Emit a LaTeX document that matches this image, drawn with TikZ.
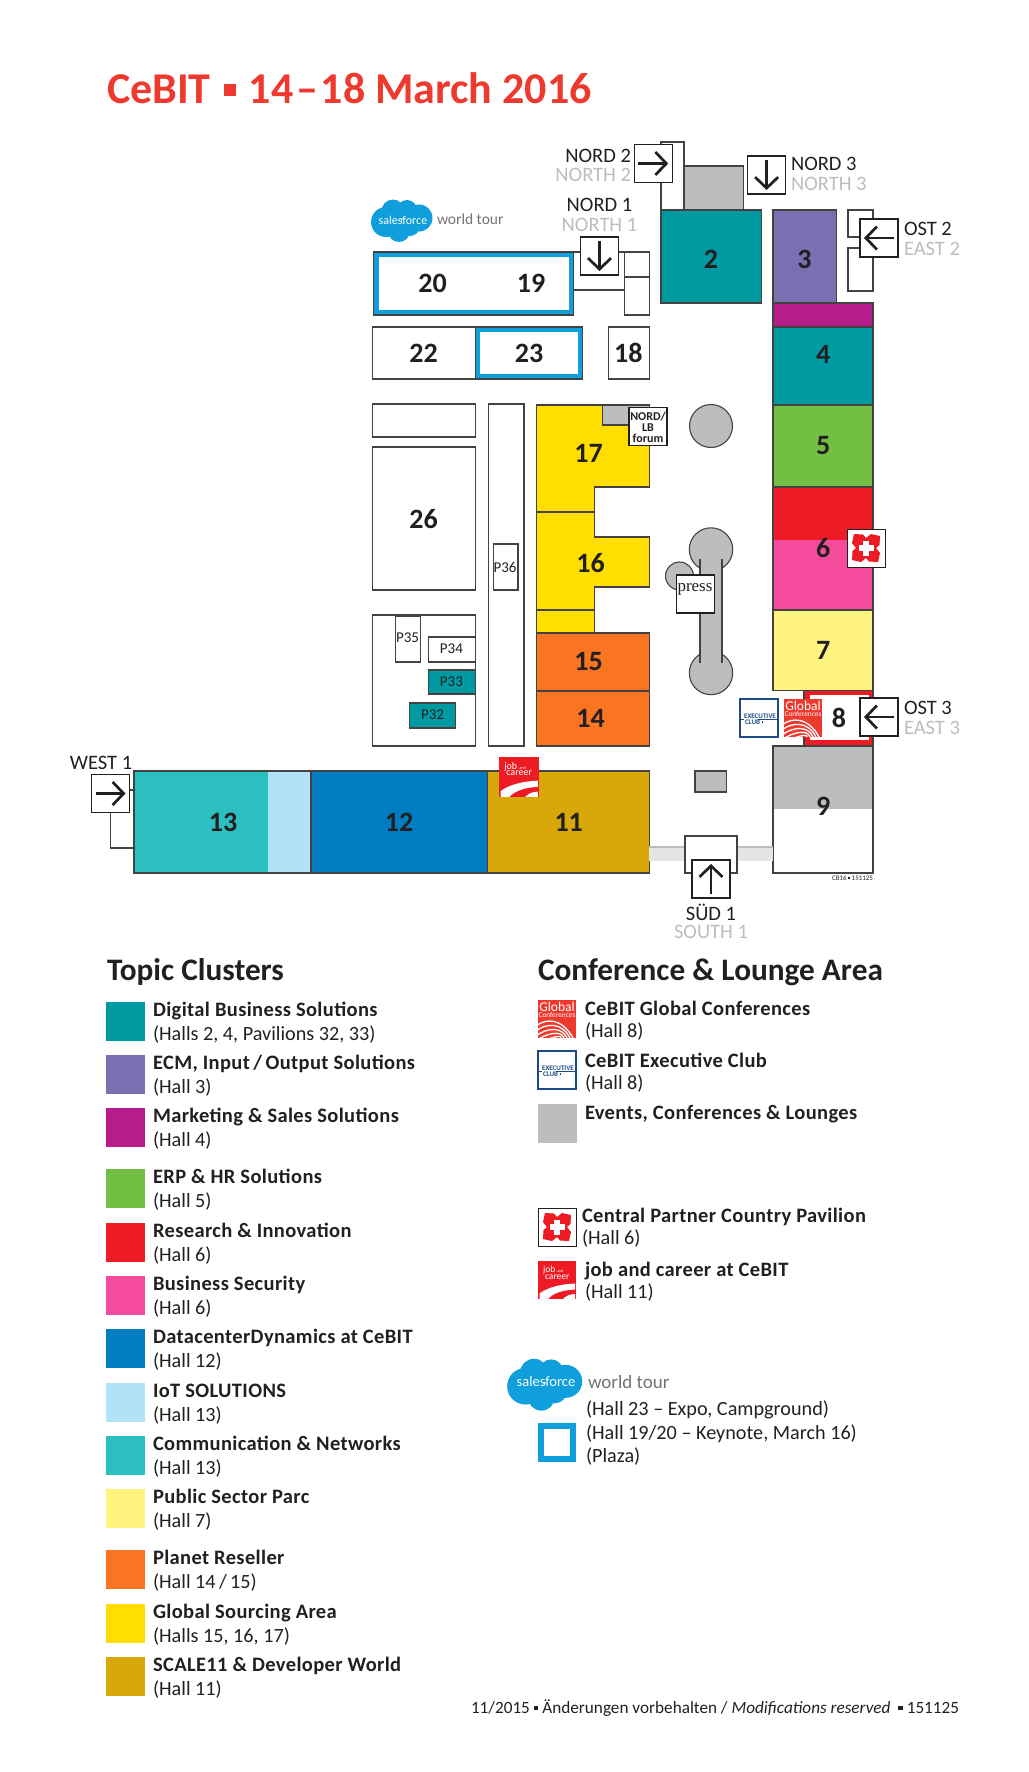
\documentclass[tikz,border=0pt]{standalone}
\usepackage{fontspec}
\usepackage{tikz}
\usetikzlibrary{arrows.meta}
\setmainfont{Carlito}
\newfontfamily\legfont[LetterSpace=1.8]{Carlito}
\newfontfamily\pressfont{Liberation Serif}

\definecolor{cbteal}{HTML}{009AA3}
\definecolor{cbpurple}{HTML}{7B6FB2}
\definecolor{cbmagenta}{HTML}{B51C8C}
\definecolor{cbgreen}{HTML}{72BF44}
\definecolor{cbred}{HTML}{ED1C24}
\definecolor{cbpink}{HTML}{F44B9C}
\definecolor{cbblue}{HTML}{007CC3}
\definecolor{cbsky}{HTML}{B3E1F8}
\definecolor{cbaqua}{HTML}{2CBFC0}
\definecolor{cblemon}{HTML}{FFF47F}
\definecolor{cborange}{HTML}{F97521}
\definecolor{cbyellow}{HTML}{FFDE00}
\definecolor{cbgold}{HTML}{D8A80A}
\definecolor{cbgrey}{HTML}{BCBDBF}
\definecolor{cbtitle}{HTML}{EE3A2E}
\definecolor{cbsales}{HTML}{0F9FDC}
\definecolor{cbnavy}{HTML}{1B4A86}
\definecolor{cbink}{HTML}{231F20}

\newcommand{\sqmark}{\rule[.16em]{.27em}{.27em}}

\tikzset{
	hall/.style={draw=cbink!85, line width=1.1pt},
	number/.style={font=\bfseries\fontsize{28}{28}\selectfont, text=cbink},
	gatede/.style={font=\fontsize{20.5}{20.5}\selectfont, text=cbink},
	gateen/.style={font=\fontsize{20.5}{20.5}\selectfont, text=cbgrey},
	gatebox/.style={draw=cbink, fill=white, line width=1.2pt, minimum width=38pt, minimum height=38pt},
	gatearrow/.style={draw=cbink, line width=2.7pt, shorten <=4pt, shorten >=4pt, -{Straight Barb[length=11pt,width=23pt]}},
	small/.style={font=\fontsize{15}{15}\selectfont, text=cbink},
	head/.style={font=\bfseries\fontsize{31.3}{31.3}\selectfont, text=cbink, anchor=base west},
	legone/.style={font=\legfont\bfseries\fontsize{20.5}{20.5}\selectfont, text=cbink, anchor=base west},
	legtwo/.style={font=\fontsize{20.2}{20.2}\selectfont, text=cbink, anchor=base west},
	cloud/.pic={
		\fill[cbsales] (-16,1) circle (15);
		\fill[cbsales] (-9,-10) circle (11.5);
		\fill[cbsales] (5,-11) circle (10);
		\fill[cbsales] (17,-3) circle (13.5);
		\fill[cbsales] (-3,10) circle (11);
		\fill[cbsales] (8,5) circle (10);
	},
	globallogo/.pic={
		\fill[cbtitle] (0,0) rectangle (38,38);
		\begin{scope}
			\clip (0,0) rectangle (38,38);
			\foreach \k in {0,1,2,3,4}
			\draw[white, line width=1.3pt] (-2,26+\k*5) .. controls (8,18+\k*5) and (24,18+\k*4) .. (35-\k*3,38);
		\end{scope}
		\node[transform shape, text=white, font=\fontsize{13.5}{13.5}\selectfont, anchor=base] (glob) at (19,11.5) {Global};
		\node[transform shape, text=white, font=\fontsize{7.3}{7.3}\selectfont, anchor=base] (conf) at (19,17) {Conferences};
	},
	execlogo/.pic={
		\draw[cbnavy, fill=white, line width=1.2pt] (0,0) rectangle (38,38);
		\draw[cbnavy, line width=.4pt] (1,20) -- (4,20) (18,20) -- (37,20);
		\node[transform shape, text=cbnavy, font=\bfseries\fontsize{7}{7}\selectfont] (exec) at (20,17) {EXECUTIVE};
		\node[transform shape, text=cbnavy, font=\bfseries\fontsize{7}{7}\selectfont, anchor=west] (club) at (5,23) {CLUB \sqmark};
	},
	joblogo/.pic={
		\fill[cbred] (0,0) rectangle (38,38);
		\fill[white] (1.5,38) -- (1.5,32.5) .. controls (10,26) and (24,23) .. (37,22.5) -- (37,28.5) .. controls (25,29) and (15,32) .. (10,38) -- cycle;
		\fill[white] (25,38) .. controls (28,34.5) and (33,33) .. (37,33) -- (37,38) -- cycle;
		\node[transform shape, text=white, font=\fontsize{9.5}{9.5}\selectfont, anchor=base west] (jobt) at (5,11.5) {\smash{job} \fontsize{4}{4}\selectfont and};
		\node[transform shape, text=white, font=\fontsize{9.5}{9.5}\selectfont, anchor=base west] (care) at (7,18) {career};
	},
	flowerlogo/.pic={
		\draw[cbink, fill=white, line width=1pt] (0,0) rectangle (38,38);
		\begin{scope}[shift={(19,19)}]
			\foreach \a in {0,90,180,270}
			\fill[cbred, rotate=\a] (0,0) -- (0,-10) -- (-3,-13.5) -- (-12,-14) -- (-14,-5) -- (-10,0) -- cycle;
			\fill[white] (-3,-7.5) rectangle (3,7.5);
			\fill[white] (-7.5,-3) rectangle (7.5,3);
		\end{scope}
	},
}

\begin{document}
\begin{tikzpicture}[x=1pt, y=-1pt, every node/.style={inner sep=0pt, outer sep=0pt}]
	\useasboundingbox (0,0) rectangle (1028,1772);
	
	% Title
	\node[anchor=base west, text=cbtitle, font=\bfseries\fontsize{44}{44}\selectfont] (title) at (107,103) {CeBIT\hspace{.3em}\sqmark\hspace{.3em}14\hspace{.06em}–\hspace{.06em}18 March 2016};
	
	\begin{scope}[xshift=1pt]
	% Halls at the top
	\draw[hall] (660,142) rectangle (683,210);
	\draw[hall, fill=cbgrey] (683,166) rectangle (742.7,210);
	\draw[hall, fill=cbteal] (660,210) rectangle (760.6,303);
	\draw[hall, fill=cbpurple] (772,210) rectangle (835.2,303);
	\draw[hall] (847,210) rectangle (872,237);
	\draw[hall] (847,248) rectangle (872,291);
	\draw[hall] (572.7,252) rectangle (623.4,290);
	\draw[hall] (623.4,252) rectangle (648.3,277);
	\draw[hall] (623.4,277) rectangle (648.3,315);
	\draw[hall, fill=cbsales] (372.8,252) rectangle (572.7,315);
	\fill[white] (377.8,257) rectangle (567.7,310);
	\draw[hall] (371.8,327) rectangle (474.2,379);
	\draw[hall, fill=cbsales] (474.2,327) rectangle (581.6,379);
	\fill[white] (479.2,332) rectangle (576.7,374);
	\draw[hall] (607.5,327) rectangle (648.3,379);
	
	% Column on the right
	\foreach \col/\ya/\yb in {cbmagenta/303/327, cbteal/327/405, cbgreen/405/487, cbred/487/540, cbpink/540/610, cblemon/610/690.5}
	\fill[\col] (772,\ya) rectangle (872,\yb);
	\draw[hall] (772,303) rectangle (872,327);
	\draw[hall] (772,327) rectangle (872,405);
	\draw[hall] (772,405) rectangle (872,487);
	\draw[hall] (772,487) rectangle (872,610);
	\draw[hall] (772,610) rectangle (872,690.5);
	\draw[hall, fill=cbred] (803,690.5) rectangle (872,746);
	\fill[white] (809,695) rectangle (868,740);
	\fill[cbgrey] (772,746) rectangle (872,809);
	\draw[hall] (772,746) rectangle (872,873);
	
	% Middle block
	\draw[hall] (371.8,404) rectangle (474.2,437);
	\draw[hall] (371.8,447) rectangle (474.2,590);
	\draw[hall] (487.2,404) rectangle (523,746);
	\draw[hall] (492.1,544) rectangle (517,590);
	\draw[hall] (371.8,615) rectangle (474.2,746);
	\draw[hall] (394.7,616) rectangle (419.6,662);
	\draw[hall] (427.5,637) rectangle (474.2,662);
	\draw[hall, fill=cbteal] (427.5,670) rectangle (474.2,694);
	\draw[hall, fill=cbteal] (408.6,703) rectangle (454.4,728);
	
	% Halls 14 to 17
	\draw[hall, fill=cbyellow] (535.9,405) -- (648.3,405) -- (648.3,487) -- (593.6,487) -- (593.6,512) -- (535.9,512) -- cycle;
	\draw[hall, fill=cbyellow] (535.9,512) -- (593.6,512) -- (593.6,537) -- (648.3,537) -- (648.3,587) -- (593.6,587) -- (593.6,610) -- (535.9,610) -- cycle;
	\draw[hall, fill=cbyellow] (535.9,610) rectangle (593.6,633);
	\draw[hall, fill=cborange] (535.9,633) rectangle (648.3,691);
	\draw[hall, fill=cborange] (535.9,691) rectangle (648.3,746);
	\draw[hall, fill=cbgrey] (601.5,405) rectangle (648.3,425);
	
	% Halls at the bottom
	\fill[cbaqua] (133,771) rectangle (267,873);
	\fill[cbsky] (267,771) rectangle (310,873);
	\draw[hall] (133,771) rectangle (310,873);
	\draw[hall, fill=cbblue] (310,771) rectangle (486.5,873);
	\draw[hall, fill=cbgold] (486.5,771) rectangle (648.3,873);
	\draw[hall, fill=cbgrey] (694,771) rectangle (725.8,792);
	\fill[black!10] (648.3,847) rectangle (684,861);
	\fill[black!10] (736,847) rectangle (772,861);
	\draw[cbgrey, line width=1.5pt] (648.3,847) -- (684,847) (736,847) -- (772,847);
	\draw[hall, fill=white] (684,836) rectangle (736,873);
	
	% Round pavilions
	\draw[hall, fill=cbgrey] (710,426) circle (21.5);
	\draw[hall, fill=cbgrey] (678.5,576) circle (14);
	\draw[hall, fill=cbgrey] (710,549.5) circle (21.7);
	\draw[hall, fill=cbgrey] (710,673) circle (21.7);
	\draw[hall, fill=cbgrey] (699,560) rectangle (721,662);
	\fill[cbgrey] (699.6,555) rectangle (720.4,667);
	
	% Numbers
	\foreach \name/\cx/\cy/\txt in {two/710/259/2, three/803.4/259/3, four/822.3/354/4, five/822.3/446/5, six/822.3/548/6, seven/822.3/650/7, eight/838/718/8, nine/822.3/806/9, eleven/567.7/822/11, twelve/398/822/12, thirteen/222/822/13, fourteen/589.6/718/14, fifteen/587.6/661/15, sixteen/589.6/563/16, seventeen/587.6/453/17, eighteen/627.4/353/18, nineteen/530/283/19, twenty/431.5/283/20, twentytwo/422.5/353/22, twentythree/528/353/23, twentysix/422.5/519/26}
	\node[number] (num\name) at (\cx,\cy) {\txt};
	\foreach \name/\cx/\cy in {32/431.5/715, 33/450.4/682, 34/450.4/649, 35/406.6/638, 36/504/567}
	\node[small] (pav\name) at (\cx,\cy) {P\name};
	\node[text=cbink, font=\fontsize{7}{7}\selectfont, anchor=east] (code) at (872,878) {CB16 \sqmark{} 151125};
	
	% Boxes on the halls
	\node[draw=cbink, fill=white, line width=1.2pt, minimum width=38pt, minimum height=38pt, anchor=north west] (pressbox) at (675.5,575) {};
	\node[font=\pressfont\fontsize{17}{17}\selectfont, text=cbink, anchor=base] (presstxt) at (694,591) {press};
	\node[draw=cbink, fill=white, line width=1.2pt, minimum width=38pt, minimum height=38pt] (lbbox) at (647,426.5) {};
	\node[font=\bfseries\fontsize{12}{11}\selectfont, text=cbink, align=center] (lbtxt) at (647,427) {NORD/\\LB\\forum};
	\pic at (846,529) {flowerlogo};
	\pic at (739,699) {execlogo};
	\pic at (783,699) {globallogo};
	\pic[scale=1.05] at (498,757) {joblogo};
	
	% Gates
	\coordinate (westend) at (133,790);
	\coordinate (westlow) at (133,848);
	\foreach \name/\cx/\cy/\from/\to in {nordone/598.5/256/north/south, nordtwo/652.2/163.5/west/east, nordthree/765.6/175/north/south, osttwo/878/238/east/west, ostthree/878/717/east/west, westone/109.5/793.5/west/east, suedone/710/879/south/north}
	{
		\node[gatebox] (\name) at (\cx,\cy) {};
		\draw[gatearrow] (\name.\from) -- (\name.\to);
	}
	\draw[hall] (westone.east |- westend) -- (westend);
	\draw[hall] (westone.south) |- (westlow);
	
	% Gate labels
	\node[gatede] (nordonede) at (598.5,205) {NORD 1};
	\node[gateen] (nordoneen) at (598.5,225) {NORTH 1};
	\node[gatede, anchor=east] (nordtwode) at (630,156) {NORD 2};
	\node[gateen, anchor=east] (nordtwoen) at (630,175) {NORTH 2};
	\node[gatede, anchor=west] (nordthreede) at (790,164) {NORD 3};
	\node[gateen, anchor=west] (nordthreeen) at (790,184) {NORTH 3};
	\node[gatede, anchor=west] (osttwode) at (903,229) {OST 2};
	\node[gateen, anchor=west] (osttwoen) at (903,249) {EAST 2};
	\node[gatede, anchor=west] (ostthreede) at (903,708) {OST 3};
	\node[gateen, anchor=west] (ostthreeen) at (903,728) {EAST 3};
	\node[gatede] (westonede) at (100,763) {WEST 1};
	\node[gatede] (suedonede) at (710,912) {SÜD 1};
	\node[gateen] (suedoneen) at (710,932) {SOUTH 1};
	
	% Salesforce on the plan
	\pic at (401,221) {cloud};
	\node[text=white, font=\fontsize{12}{12}\selectfont] (salesmap) at (402,220) {salesforce};
	\node[text=black!55, font=\fontsize{15.5}{15.5}\selectfont, anchor=west] (tourmap) at (436,219) {world tour};
	\end{scope}
	
	% Legend left
	\node[head] (headleft) at (107,980) {Topic Clusters};
	\foreach \col/\yy/\one/\two in {
		cbteal/1002/{Digital Business Solutions}/{(Halls 2, 4, Pavilions 32, 33)},
		cbpurple/1055/{ECM, Input\,/\,Output Solutions}/{(Hall 3)},
		cbmagenta/1108/{Marketing \& Sales Solutions}/{(Hall 4)},
		cbgreen/1169/{ERP \& HR Solutions}/{(Hall 5)},
		cbred/1223/{Research \& Innovation}/{(Hall 6)},
		cbpink/1276/{Business Security}/{(Hall 6)},
		cbblue/1329/{DatacenterDynamics at CeBIT}/{(Hall 12)},
		cbsky/1383/{IoT SOLUTIONS}/{(Hall 13)},
		cbaqua/1436/{Communication \& Networks}/{(Hall 13)},
		cblemon/1489/{Public Sector Parc}/{(Hall 7)},
		cborange/1550/{Planet Reseller}/{(Hall 14\,/\,15)},
		cbyellow/1604/{Global Sourcing Area}/{(Halls 15, 16, 17)},
		cbgold/1657/{SCALE11 \& Developer World}/{(Hall 11)}}
	{
		\fill[\col] (106,\yy) rectangle ++(39,39);
		\node[legone] (one\yy) at (153,\yy+14) {\one};
		\node[legtwo] (two\yy) at (153,\yy+38) {\two};
	}
	
	% Legend right
	\node[head] (headright) at (538,980) {Conference \& Lounge Area};
	\pic at (538,1000) {globallogo};
	\node[legone] (confone) at (585,1015) {CeBIT Global Conferences};
	\node[legtwo] (conftwo) at (585,1037) {(Hall 8)};
	\pic at (538,1051) {execlogo};
	\node[legone] (execone) at (585,1067) {CeBIT Executive Club};
	\node[legtwo] (exectwo) at (585,1089) {(Hall 8)};
	\fill[cbgrey] (538,1104) rectangle ++(39,39);
	\node[legone] (eventone) at (585,1119) {Events, Conferences \& Lounges};
	\pic at (538,1208) {flowerlogo};
	\node[legone] (partone) at (582,1222) {Central Partner Country Pavilion};
	\node[legtwo] (parttwo) at (582,1244) {(Hall 6)};
	\pic at (538,1261) {joblogo};
	\node[legone] (careerone) at (585,1276) {job and career at CeBIT};
	\node[legtwo] (careertwo) at (585,1298) {(Hall 11)};
	
	% Salesforce in the legend
	\pic[scale=1.22] at (545,1385) {cloud};
	\node[text=white, font=\fontsize{14.5}{14.5}\selectfont] (saleslegend) at (546,1382) {salesforce};
	\node[text=black!55, font=\fontsize{19}{19}\selectfont, anchor=base west] (tourlegend) at (588,1388) {world tour};
	\node[legtwo] (plazaone) at (586,1415) {(Hall 23 – Expo, Campground)};
	\node[legtwo] (plazatwo) at (586,1439) {(Hall 19/20 – Keynote, March 16)};
	\node[legtwo] (plazathree) at (586,1462) {(Plaza)};
	\draw[cbsales, line width=6pt] (541,1426) rectangle (573,1459);
	
	% Footer
	\node[legtwo, font=\fontsize{17.2}{17.2}\selectfont] (footer) at (471,1713) {11/2015 \sqmark{} Änderungen vorbehalten / \textit{Modifications reserved} \ \sqmark{} 151125};
\end{tikzpicture}
\end{document}
